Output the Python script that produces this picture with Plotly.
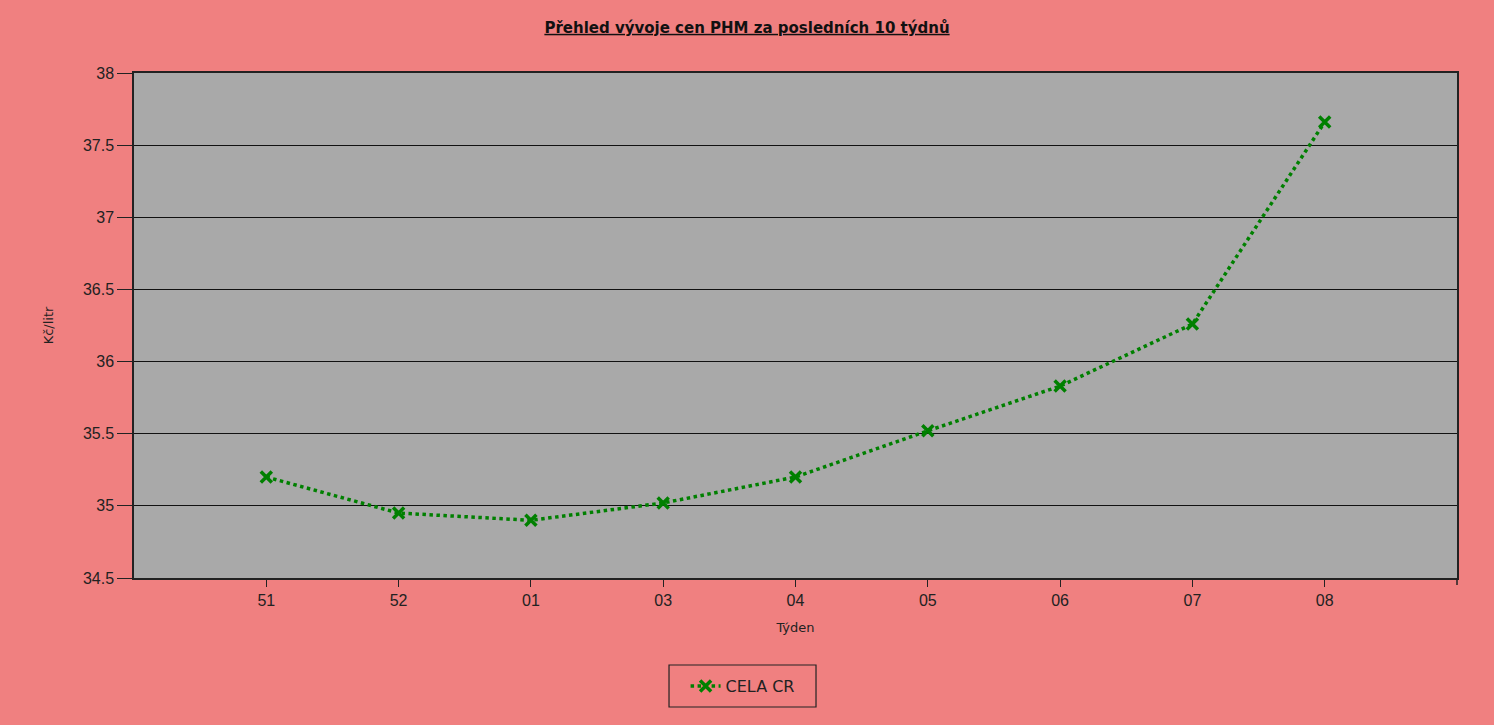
import plotly.graph_objects as go

weeks = ["51", "52", "01", "03", "04", "05", "06", "07", "08"]
prices = [35.20, 34.95, 34.90, 35.02, 35.20, 35.52, 35.83, 36.26, 37.66]
series_name = "CELA CR"
title_text = "Přehled vývoje cen PHM za posledních 10 týdnů"

fig = go.Figure()
fig.add_trace(go.Scatter(
    x=weeks, y=prices, name=series_name, mode="lines+markers",
    line=dict(color="#008000", width=3.5, dash="dot"),
    marker=dict(symbol="x-thin", size=11, color="#008000",
                line=dict(color="#008000", width=3.5)),
))

fig.update_layout(
    width=1494, height=725,
    paper_bgcolor="#F08080", plot_bgcolor="#A9A9A9",
    margin=dict(l=134, r=37, t=73, b=147),
    title=dict(text="<b><u>" + title_text + "</u></b>", x=0.5, xanchor="center",
               y=0.962, yanchor="middle",
               font=dict(family="DejaVu Sans", size=15, color="#111")),
    font=dict(family="Liberation Sans", color="#222"),
    showlegend=True,
    legend=dict(x=0.46, xanchor="center", y=-0.214, yanchor="middle",
                borderwidth=0, bgcolor="rgba(0,0,0,0)", itemwidth=30,
                font=dict(family="DejaVu Sans", size=16, color="#222")),
)
fig.update_xaxes(
    type="category", range=[-1, 9],
    showline=True, linecolor="#222", linewidth=1.5, mirror=True,
    ticks="outside", ticklen=7, tickcolor="#222",
    tickfont=dict(size=16), showgrid=False, zeroline=False,
    title=dict(text="Týden", font=dict(family="DejaVu Sans", size=13), standoff=15),
)
fig.update_yaxes(
    range=[34.5, 38], dtick=0.5,
    showline=True, linecolor="#222", linewidth=1.5, mirror=True,
    ticks="outside", ticklen=15, tickcolor="#222",
    tickfont=dict(size=16), showgrid=True, gridcolor="#111", gridwidth=1.3,
    zeroline=False,
    title=dict(text="Kč/litr", font=dict(family="DejaVu Sans", size=13), standoff=26),
)
# tick mark at the right end of the x axis
fig.add_shape(type="line", xref="paper", yref="paper", x0=1, x1=1, y0=0, y1=-0.014,
              line=dict(color="#222", width=1.5))
# legend frame
fig.add_shape(type="rect", xref="paper", yref="paper", x0=0.4044, x1=0.5155,
              y0=-0.1723, y1=-0.2554, line=dict(color="#222", width=1.2),
              fillcolor="rgba(0,0,0,0)")

fig.write_html("out.html", config={"displayModeBar": False},
               post_script="document.body.style.margin='0';document.body.style.background='#F08080';")
